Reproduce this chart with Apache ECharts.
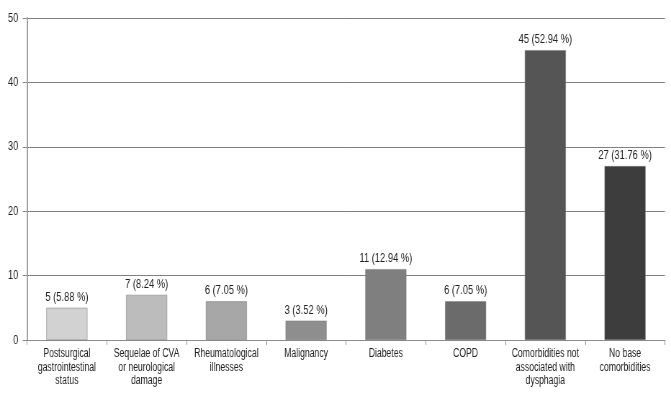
<!DOCTYPE html>
<html><head><meta charset="utf-8">
<script src="https://cdn.jsdelivr.net/npm/echarts@6/dist/echarts.min.js"></script>
<style>html,body{margin:0;padding:0;background:#fff;overflow:hidden}
#c{width:932px;height:394px;transform:scaleX(0.72);transform-origin:0 0}</style>
</head><body><div id="c"></div>
<script>
var categories = ["Postsurgical\ngastrointestinal\nstatus","Sequelae of CVA\nor neurological\ndamage","Rheumatological\nillnesses","Malignancy","Diabetes","COPD","Comorbidities not\nassociated with\ndysphagia","No base\ncomorbidities"];
var counts = [5,7,6,3,11,6,45,27];
var percents = ["5.88","8.24","7.05","3.52","12.94","7.05","52.94","31.76"];
var barColors = ["#d2d2d2","#bcbcbc","#a7a7a7","#8e8e8e","#7f7f7f","#6b6b6b","#555555","#3d3d3d"];
var yTicks = [0,10,20,30,40,50];
var FONT = "'Liberation Sans',Arial,sans-serif";
var chart = echarts.init(document.getElementById('c'));
chart.setOption({
  animation:false,
  grid:{left:37.5,right:8.5,top:18,bottom:54},
  xAxis:{type:'category',data:categories,
    axisLine:{lineStyle:{color:'#8c8c8c',width:1}},
    axisTick:{show:true,length:5,lineStyle:{color:'#8c8c8c'}},
    axisLabel:{color:'#222',fontFamily:FONT,fontSize:12,lineHeight:13.5,margin:7,interval:0}},
  yAxis:{type:'value',min:yTicks[0],max:yTicks[yTicks.length-1],interval:10,
    axisLine:{show:true,lineStyle:{color:'#a0a0a0',width:2}},
    axisTick:{show:true,length:6,lineStyle:{color:'#8c8c8c'}},
    splitLine:{lineStyle:{color:'#808080',width:1}},
    axisLabel:{color:'#222',fontFamily:FONT,fontSize:13,margin:12}},
  series:[{type:'bar',barWidth:57,
    data:counts.map(function(v,i){return {value:v,itemStyle:{color:barColors[i],borderColor:'#777777',borderWidth:0.5}};}),
    label:{show:true,position:'top',distance:4,color:'#222',fontFamily:FONT,fontSize:13,
      formatter:function(p){return p.value+' ('+percents[p.dataIndex]+' %)';}}}]
});
</script></body></html>
